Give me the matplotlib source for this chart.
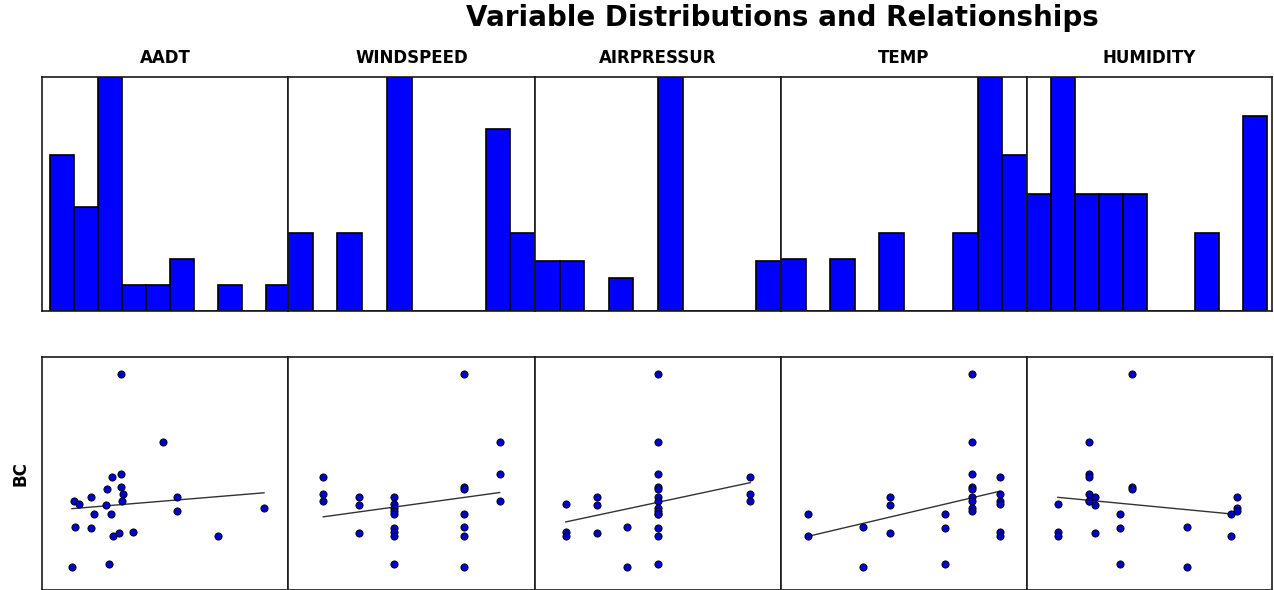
"""
Histograms of each predictor (top row) and BC against each predictor (bottom row).
"""

import numpy as np
import matplotlib.pyplot as plt

# black carbon, one value per sample
bc = [5.40, 3.70, 2.90, 2.83, 2.58, 2.53, 2.40, 2.33, 2.33, 2.23, 2.23, 2.15, 2.13,
      2.05, 1.98, 1.90, 1.90, 1.58, 1.55, 1.45, 1.43, 1.35, 1.35, 0.65, 0.58]

aadt = [15800, 24200, 15800, 14000, 15800, 13000, 16200, 9800, 27000, 16000, 6400, 7400, 12800,
        44400, 27000, 10400, 13800, 6600, 9800, 18200, 15400, 14200, 35200, 13400, 6000]
windspeed = [5, 6, 6, 1, 5, 5, 1, 2, 3, 1, 6, 3, 2,
             3, 3, 3, 5, 5, 3, 3, 2, 3, 5, 3, 5]
airpressur = [1014, 1014, 1014, 1017, 1014, 1014, 1017, 1012, 1014, 1017, 1014, 1011, 1012,
              1014, 1014, 1014, 1014, 1013, 1014, 1011, 1012, 1011, 1014, 1014, 1013]
temp = [26, 26, 26, 27, 26, 26, 27, 23, 26, 27, 26, 27, 23,
        26, 26, 20, 25, 22, 25, 27, 23, 20, 27, 25, 22]
humidity = [67, 60, 60, 60, 67, 67, 60, 61, 84, 60, 60, 55, 61,
            84, 84, 65, 83, 76, 65, 55, 61, 55, 83, 65, 76]

names = ["AADT", "WINDSPEED", "AIRPRESSUR", "TEMP", "HUMIDITY"]
columns = [aadt, windspeed, airpressur, temp, humidity]

# layout
W, H = 1274, 590
col_edges = [42, 288, 535, 781, 1027, 1272]
scatter_xlim = [(0, 49200), (0, 7), (1010, 1018), (19, 28), (50, 89.7)]
hist_pad = [(0.33, -0.08), (0, 0), (0, 0), (0, 0), (0, 0.2)]  # in bin widths

fig = plt.figure(figsize=(W / 100, H / 100), dpi=100)

for i, (name, x) in enumerate(zip(names, columns)):
    x = np.asarray(x, dtype=float)
    y = np.asarray(bc, dtype=float)
    left = col_edges[i] / W
    width = (col_edges[i + 1] - col_edges[i]) / W

    # histogram
    axh = fig.add_axes([left, (H - 311) / H, width, 234 / H])
    counts, edges, _ = axh.hist(x, bins=10, color="#0000ff", edgecolor="black", linewidth=1.2)
    bw = edges[1] - edges[0]
    axh.set_xlim(edges[0] - hist_pad[i][0] * bw, edges[-1] + hist_pad[i][1] * bw)
    axh.set_ylim(0, counts.max())
    axh.set_xticks([])
    axh.set_yticks([])
    axh.set_title(name, fontsize=12, fontweight="bold", pad=10)

    # scatter + fitted line
    axs = fig.add_axes([left, 0.0, width, 233 / H])
    axs.scatter(x, y, s=27, color="#0000c8", edgecolors="black", linewidths=0.6, zorder=3)
    slope, intercept = np.polyfit(x, y, 1)
    xs = np.array([x.min(), x.max()])
    axs.plot(xs, slope * xs + intercept, color="0.2", linewidth=1.0, zorder=2)
    axs.set_xlim(*scatter_xlim[i])
    axs.set_ylim(0, 5.825)
    axs.set_xticks([])
    axs.set_yticks([])
    if i == 0:
        axs.set_ylabel("BC", fontsize=12, fontweight="bold", labelpad=9)

    for ax in (axh, axs):
        for sp in ax.spines.values():
            sp.set_linewidth(1.2)
            sp.set_color("0.1")

fig.text(782 / W, 1 - 18 / H, "Variable Distributions and Relationships",
         ha="center", va="center", fontsize=20, fontweight="bold")

plt.savefig("out.png", dpi=100)
